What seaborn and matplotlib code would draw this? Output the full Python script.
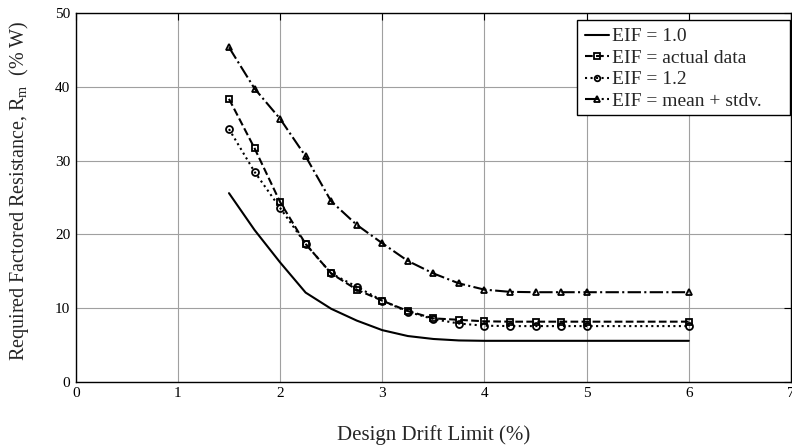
import numpy as np
import pandas as pd
import seaborn as sns
import matplotlib.pyplot as plt
from matplotlib.patches import Rectangle

# %% data _____________________________________________________________________
drift = [1.5, 1.75, 2.0, 2.25, 2.5, 2.75, 3.0, 3.25, 3.5, 3.75, 4.0, 4.25, 4.5, 4.75, 5.0, 6.0]
eif_10 = [25.6, 20.6, 16.2, 12.1, 9.9, 8.3, 7.0, 6.2, 5.8, 5.6, 5.55, 5.55, 5.55, 5.55, 5.55, 5.55]
eif_actual = [38.4, 31.7, 24.4, 18.7, 14.7, 12.5, 11.0, 9.6, 8.6, 8.4, 8.2, 8.15, 8.15, 8.15, 8.15, 8.15]
eif_12 = [34.3, 28.5, 23.6, 18.7, 14.7, 12.9, 11.0, 9.5, 8.5, 7.9, 7.6, 7.55, 7.55, 7.55, 7.55, 7.55]
eif_mstd = [45.4, 39.8, 35.7, 30.6, 24.5, 21.3, 18.8, 16.4, 14.7, 13.35, 12.5, 12.2, 12.15, 12.15, 12.15, 12.15]

series_names = ['EIF = 1.0', 'EIF = actual data', 'EIF = 1.2', 'EIF = mean + stdv.']
series_vals = [eif_10, eif_actual, eif_12, eif_mstd]

# %% plot _____________________________________________________________________
sns.set_theme(style="white")
plt.rcParams['font.family'] = ['Liberation Serif', 'DejaVu Serif']
plt.rcParams['mathtext.fontset'] = 'custom'
plt.rcParams['mathtext.rm'] = 'Liberation Serif'
plt.rcParams['mathtext.it'] = 'Liberation Serif'

W, H = 792, 448
fig, ax = plt.subplots(figsize=(W / 100, H / 100), dpi=100)
fig.subplots_adjust(left=0.0956, right=0.9987, top=0.970, bottom=0.148)

styles = [('-', None), ('--', 's'), (':', 'o'), ('-.', '^')]
for name, vals, (ls, mk) in zip(series_names, series_vals, styles):
    sns.lineplot(x=drift, y=vals, ax=ax, color='black', linestyle=ls, linewidth=1.5,
                 marker=mk, markersize=5, markerfacecolor='none', markeredgecolor='black',
                 markeredgewidth=1.3, label=name)

ax.set_xlim(0, 7)
ax.set_ylim(0, 50)
ax.set_xticks(range(0, 8))
ax.set_yticks(range(0, 51, 10))
ax.grid(True, color='#a0a0a0', linewidth=0.8)
ax.tick_params(direction='in', top=True, right=True, length=5, width=0.8,
               labelsize=11, colors='black', pad=4)
for s in ax.spines.values():
    s.set_color('black')
    s.set_linewidth(1.0)

ax.set_xlabel('Design Drift Limit (%)', fontsize=15, labelpad=18)
ax.set_ylabel(r'Required Factored Resistance, R$_\mathrm{m}$  (% W)', fontsize=14.5)
ax.yaxis.set_label_coords(-0.062, 0.52)

# legend box drawn separately so it can be as wide as the matlab one
box = Rectangle((577 / W, 1 - 115 / H), 213 / W, 95 / H, transform=fig.transFigure,
                facecolor='white', edgecolor='black', linewidth=1.0, zorder=4.5,
                clip_on=False)
ax.add_patch(box)

leg = ax.legend(loc='upper left', bbox_to_anchor=(577 / W, 1 - 20 / H),
                bbox_transform=fig.transFigure, borderaxespad=0,
                fontsize=14, frameon=False, handlelength=1.25, handletextpad=0.15,
                borderpad=0.4, labelspacing=0.2)
leg.set_zorder(6)
for h in leg.legend_handles:
    h.set_markersize(4)

fig.savefig('out.png', dpi=100)
